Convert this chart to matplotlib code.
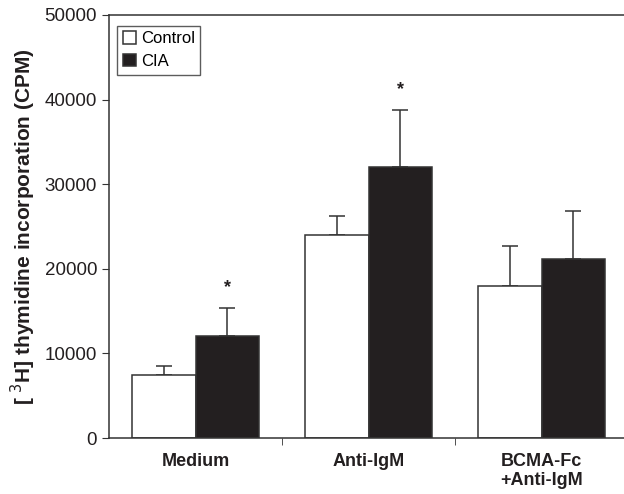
import matplotlib.pyplot as plt
import numpy as np

plt.rcParams['font.family'] = ['Liberation Sans', 'DejaVu Sans']

groups = ['Medium', 'Anti-IgM', 'BCMA-Fc\n+Anti-IgM']
control = [7400, 24000, 18000]
control_err = [1150, 2300, 4700]
cia = [12100, 32000, 21200]
cia_err = [3300, 6800, 5600]
star = [True, True, False]

fig = plt.figure(figsize=(6.24, 4.94), dpi=100)
ax = fig.add_axes([109 / 624, (494 - 438) / 494, 519 / 624, 423 / 494])

x = np.arange(len(groups))
w = 0.365
ink = '#231f20'
ax.bar(x - w / 2, control, w, color='white', edgecolor='#333333', linewidth=1.1,
       label='Control', zorder=2)
ax.bar(x + w / 2, cia, w, color=ink, edgecolor='#333333', linewidth=1.1,
       label='CIA', zorder=2)
ax.errorbar(x - w / 2, control, yerr=[np.zeros(3), control_err], fmt='none',
            ecolor='#333333', elinewidth=1.1, capsize=6, capthick=1.1, zorder=1)
ax.errorbar(x + w / 2, cia, yerr=[np.zeros(3), cia_err], fmt='none',
            ecolor='#333333', elinewidth=1.1, capsize=6, capthick=1.1, zorder=1)
for i in range(len(groups)):
    if star[i]:
        ax.text(x[i] + w / 2, cia[i] + cia_err[i] + 1400, '*', ha='center',
                va='bottom', fontsize=13, fontweight='bold', color=ink)

ax.set_xlim(-0.5, 2.5)
ax.set_ylim(0, 50000)
ax.set_yticks(range(0, 50001, 10000))
ax.set_xticks(x)
ax.set_xticklabels(groups, fontsize=13, fontweight='bold', color=ink)
ax.set_xticks([0.5, 1.5], minor=True)
ax.tick_params(axis='x', which='major', length=0, pad=11)
ax.tick_params(axis='x', which='minor', length=5, direction='out', color='#333333')
ax.tick_params(axis='y', labelsize=13.5, length=5, color='#333333', labelcolor=ink)
for lab in ax.get_xticklabels():
    lab.set_linespacing(1.1)
ax.set_ylabel('[ $^{3}$H] thymidine incorporation (CPM)', fontsize=15,
              fontweight='bold', color=ink, labelpad=5)
ax.spines['right'].set_visible(False)
for side in ['left', 'bottom', 'top']:
    ax.spines[side].set_color('#333333')
    ax.spines[side].set_linewidth(1.1)

leg = ax.legend(loc='upper left', bbox_to_anchor=(0.016, 0.975), fontsize=12,
                frameon=True, fancybox=False, edgecolor='#333333',
                handlelength=0.75, handleheight=0.75, handletextpad=0.3,
                borderpad=0.35, labelspacing=0.45, borderaxespad=0)
leg.get_frame().set_linewidth(1.0)

fig.savefig('out.png', dpi=100)
